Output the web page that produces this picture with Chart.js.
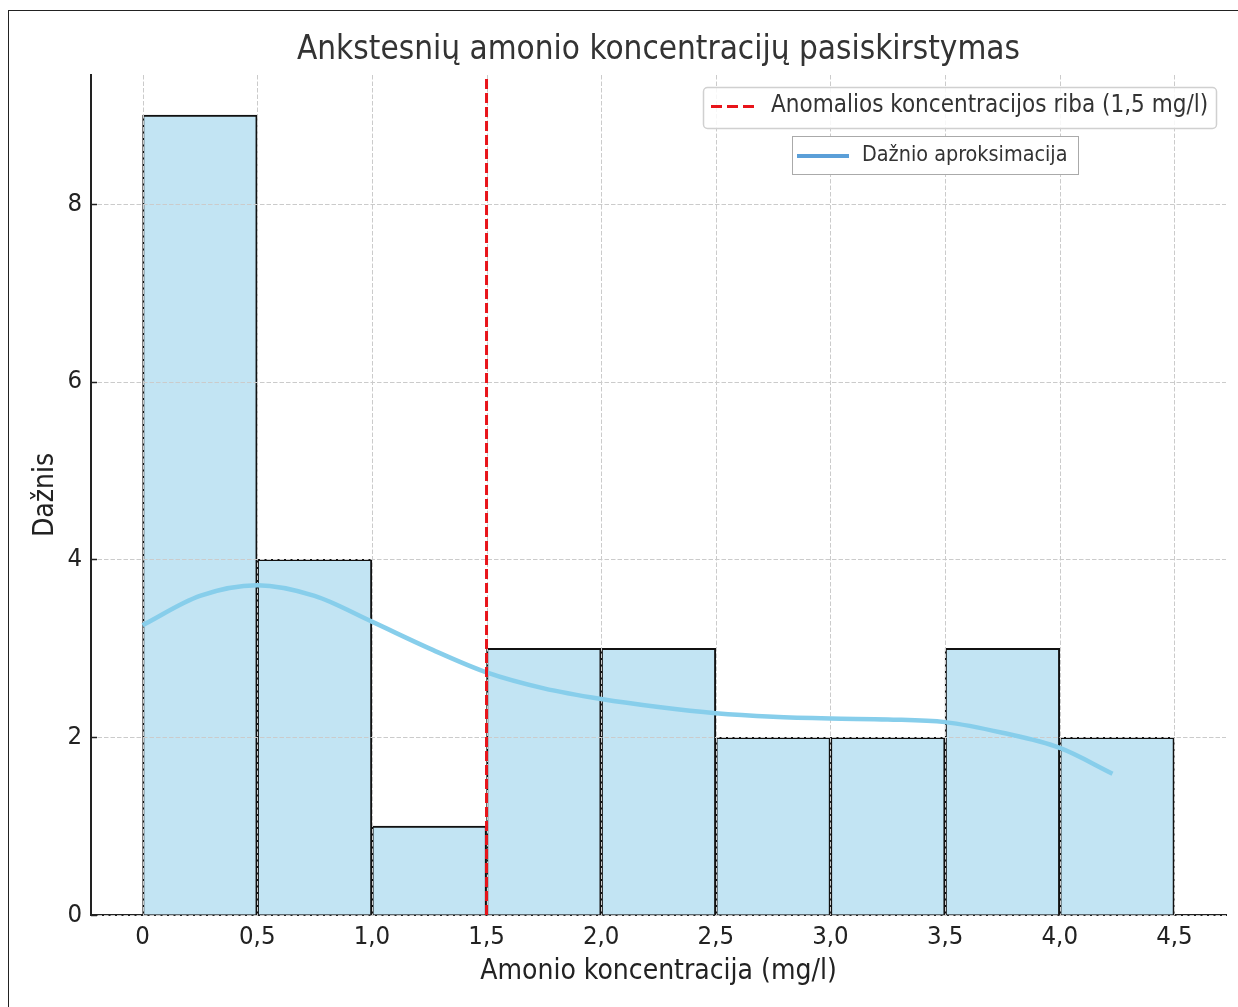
<!DOCTYPE html>
<html lang="lt">
<head>
<meta charset="utf-8">
<title>Ankstesnių amonio koncentracijų pasiskirstymas</title>
<script src="https://cdn.jsdelivr.net/npm/chart.js@4.4.1/dist/chart.umd.min.js"></script>
<style>
  html, body { margin: 0; padding: 0; background: #fff; }
  #wrap { position: relative; width: 1238px; height: 1007px; overflow: hidden; }
  #frame {
    position: absolute; left: 8px; top: 10px; width: 1300px; height: 1100px;
    border: 1.5px solid #222; pointer-events: none;
  }
</style>
</head>
<body>
<div id="wrap">
  <canvas id="chart" width="1238" height="1007"></canvas>
  <div id="frame"></div>
</div>
<script>
// --- Data ---
const binCenters = [0.25, 0.75, 1.25, 1.75, 2.25, 2.75, 3.25, 3.75, 4.25];
const binCounts = [9, 4, 1, 3, 3, 2, 2, 3, 2];

// smoothed frequency curve
const kdeX = [0, 0.25, 0.5, 0.75, 1.0, 1.25, 1.5, 1.75, 2.0, 2.25, 2.5, 2.75, 3.0, 3.25, 3.5, 3.75, 4.0, 4.23];
const kdeY = [3.26, 3.59, 3.71, 3.59, 3.30, 3.00, 2.73, 2.55, 2.43, 2.34, 2.27, 2.23, 2.21, 2.20, 2.17, 2.05, 1.88, 1.59];

const threshold = 1.5;
const xTicks = [0, 0.5, 1.0, 1.5, 2.0, 2.5, 3.0, 3.5, 4.0, 4.5];
const xTickLabels = ["0", "0,5", "1,0", "1,5", "2,0", "2,5", "3,0", "3,5", "4,0", "4,5"];
const yTicks = [0, 2, 4, 6, 8];
const xMin = -0.225, xMax = 4.725;
const yMax = 9.45;

const FONT = "'DejaVu Sans Condensed', 'DejaVu Sans', sans-serif";

// dashed grid drawn over the bars but under the lines
const gridOverBars = {
  id: "gridOverBars",
  afterDatasetDraw(chart, args) {
    if (args.index !== 0) return;
    const { ctx, chartArea: a, scales } = chart;
    ctx.save();
    ctx.strokeStyle = "#cbcbcb";
    ctx.lineWidth = 1;
    ctx.setLineDash([4.5, 2]);
    xTicks.forEach((v) => {
      const px = Math.round(scales.x.getPixelForValue(v)) + 0.5;
      ctx.beginPath();
      ctx.moveTo(px, a.top);
      ctx.lineTo(px, a.bottom);
      ctx.stroke();
    });
    yTicks.forEach((v) => {
      const py = Math.round(scales.y.getPixelForValue(v)) + 0.5;
      ctx.beginPath();
      ctx.moveTo(a.left, py);
      ctx.lineTo(a.right, py);
      ctx.stroke();
    });
    ctx.restore();
  },
  afterDraw(chart) {
    // short inward tick marks
    const { ctx, chartArea: a, scales } = chart;
    ctx.save();
    ctx.strokeStyle = "#222";
    ctx.lineWidth = 1.5;
    yTicks.forEach((v) => {
      const py = Math.round(scales.y.getPixelForValue(v)) + 0.5;
      ctx.beginPath();
      ctx.moveTo(a.left, py);
      ctx.lineTo(a.left + 6, py);
      ctx.stroke();
    });
    ctx.restore();
  },
};

// two separate legend boxes, top right
const legendBoxes = {
  id: "legendBoxes",
  afterDraw(chart) {
    const ctx = chart.ctx;
    ctx.save();
    ctx.textBaseline = "middle";

    // threshold legend
    ctx.beginPath();
    ctx.roundRect(703.5, 87.5, 513, 41, 4);
    ctx.fillStyle = "rgba(255,255,255,0.85)";
    ctx.fill();
    ctx.strokeStyle = "#d0d0d0";
    ctx.lineWidth = 1.5;
    ctx.stroke();
    ctx.strokeStyle = "#e8141a";
    ctx.lineWidth = 3;
    ctx.setLineDash([11, 5]);
    ctx.beginPath();
    ctx.moveTo(711, 106.5);
    ctx.lineTo(757, 106.5);
    ctx.stroke();
    ctx.setLineDash([]);
    ctx.fillStyle = "#333";
    ctx.font = "24px " + FONT;
    ctx.fillText("Anomalios koncentracijos riba (1,5 mg/l)", 771, 106);

    // curve legend
    ctx.fillStyle = "#fff";
    ctx.fillRect(792.5, 136.5, 286, 38);
    ctx.strokeStyle = "#aaa";
    ctx.lineWidth = 1;
    ctx.strokeRect(792.5, 136.5, 286, 38);
    ctx.strokeStyle = "#5b9fd8";
    ctx.lineWidth = 4;
    ctx.beginPath();
    ctx.moveTo(797, 156);
    ctx.lineTo(849, 156);
    ctx.stroke();
    ctx.fillStyle = "#333";
    ctx.font = "21.4px " + FONT;
    ctx.fillText("Dažnio aproksimacija", 862, 155);
    ctx.restore();
  },
};

new Chart(document.getElementById("chart"), {
  type: "bar",
  data: {
    datasets: [
      {
        type: "bar",
        data: binCenters.map((x, i) => ({ x, y: binCounts[i] })),
        backgroundColor: "#c2e4f3",
        borderColor: "#111",
        borderWidth: 2,
        borderSkipped: "bottom",
        barPercentage: 1,
        categoryPercentage: 1,
        order: 3,
      },
      {
        type: "line",
        data: kdeX.map((x, i) => ({ x, y: kdeY[i] })),
        borderColor: "#87ceeb",
        borderWidth: 4.5,
        pointRadius: 0,
        cubicInterpolationMode: "monotone",
        fill: false,
        order: 2,
      },
      {
        type: "line",
        data: [{ x: threshold, y: 0 }, { x: threshold, y: yMax }],
        borderColor: "#e8141a",
        borderWidth: 3,
        borderDash: [10, 4],
        pointRadius: 0,
        fill: false,
        order: 1,
      },
    ],
  },
  options: {
    responsive: false,
    animation: false,
    layout: { padding: { left: 0, right: 12, top: 0, bottom: 0 } },
    plugins: {
      legend: { display: false },
      tooltip: { enabled: false },
      title: {
        display: true,
        fullSize: false,
        text: "Ankstesnių amonio koncentracijų pasiskirstymas",
        color: "#333",
        font: { family: FONT, size: 33, weight: "normal", lineHeight: 1.2 },
        padding: { top: 31, bottom: 4.4 },
      },
    },
    scales: {
      x: {
        type: "linear",
        min: xMin,
        max: xMax,
        offset: false,
        afterBuildTicks: (s) => { s.ticks = xTicks.map((v) => ({ value: v })); },
        afterFit: (s) => { s.height = 92; },
        ticks: {
          callback: (v, i) => xTickLabels[i],
          color: "#222",
          font: { family: FONT, size: 25.5 },
          padding: 7,
          maxRotation: 0,
        },
        grid: { display: true, color: "rgba(0,0,0,0)", drawTicks: false },
        border: { display: true, color: "#222", width: 2 },
        title: {
          display: true,
          text: "Amonio koncentracija (mg/l)",
          color: "#222",
          font: { family: FONT, size: 28, lineHeight: 1.2 },
          padding: { top: 0, bottom: 18.2 },
        },
      },
      y: {
        type: "linear",
        min: 0,
        max: yMax,
        afterBuildTicks: (s) => { s.ticks = yTicks.map((v) => ({ value: v })); },
        afterFit: (s) => { s.width = 91; },
        ticks: {
          callback: (v) => String(v),
          color: "#222",
          font: { family: FONT, size: 25.5 },
          padding: 9,
        },
        grid: { display: true, color: "rgba(0,0,0,0)", drawTicks: false },
        border: { display: true, color: "#222", width: 2 },
        title: {
          display: true,
          text: "Dažnis",
          color: "#222",
          font: { family: FONT, size: 28, lineHeight: 1.2 },
          padding: { top: 28.5, bottom: 0 },
        },
      },
    },
  },
  plugins: [gridOverBars, legendBoxes],
});
</script>
</body>
</html>
